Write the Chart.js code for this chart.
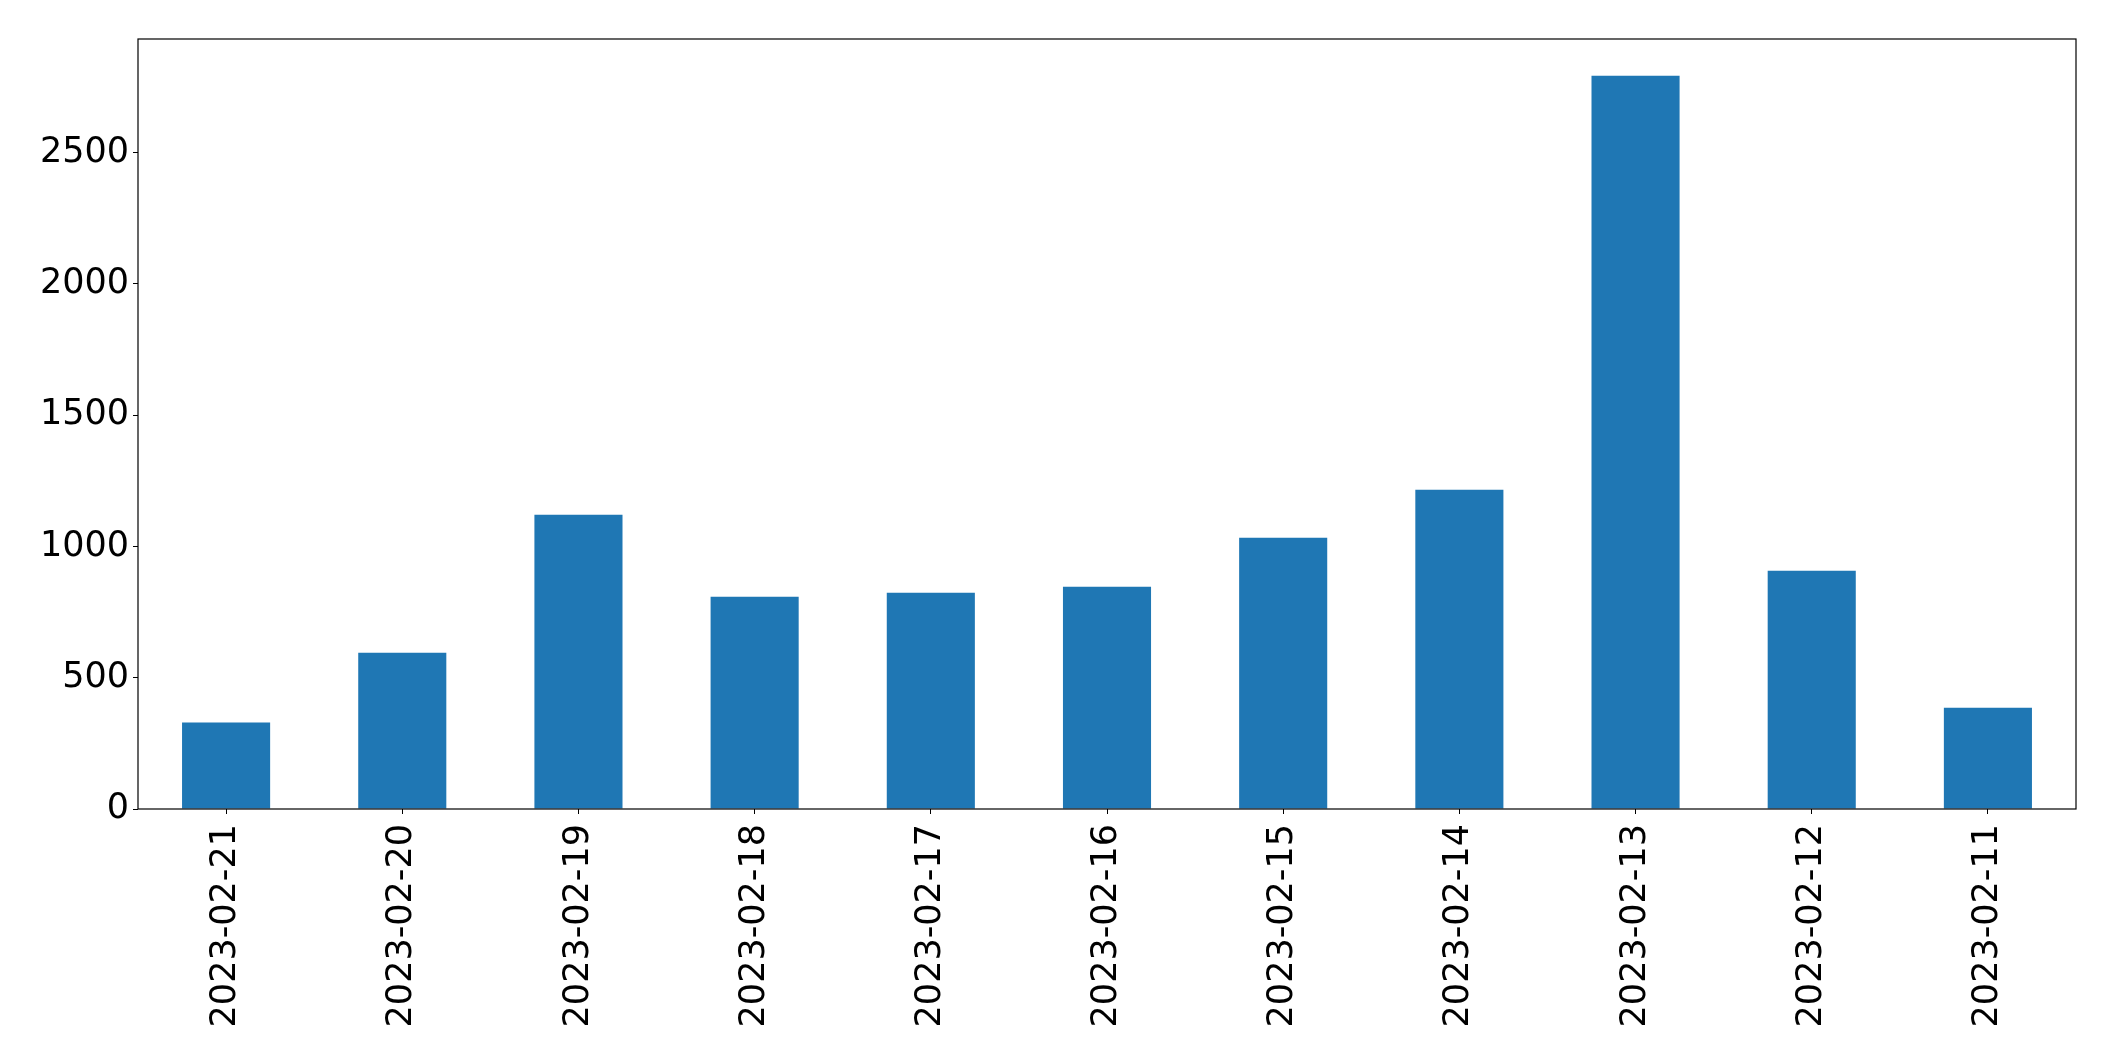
<!DOCTYPE html>
<html>
<head>
<meta charset="utf-8">
<script src="https://cdn.jsdelivr.net/npm/chart.js@4/dist/chart.umd.min.js"></script>
<style>
  html, body { margin: 0; padding: 0; background: #fff; }
  #wrap { width: 2115px; height: 1061px; }
</style>
</head>
<body>
<div id="wrap"><canvas id="barChart" width="2115" height="1061"></canvas></div>
<script>
const dates = ['2023-02-21', '2023-02-20', '2023-02-19', '2023-02-18', '2023-02-17', '2023-02-16',
               '2023-02-15', '2023-02-14', '2023-02-13', '2023-02-12', '2023-02-11'];
const counts = [329, 595, 1121, 808, 824, 846, 1033, 1216, 2793, 907, 386];
const yTicks = [0, 500, 1000, 1500, 2000, 2500];

// matplotlib-style box around the plot area
const frame = {
    id: 'frame',
    afterDraw(chart) {
        const a = chart.chartArea;
        const c = chart.ctx;
        c.save();
        c.strokeStyle = '#000';
        c.lineWidth = 1.2;
        c.strokeRect(a.left, a.top, a.right - a.left, a.bottom - a.top);
        c.restore();
    }
};

const ctx = document.getElementById('barChart').getContext('2d');
new Chart(ctx, {
    type: 'bar',
    data: {
        labels: dates,
        datasets: [{
            data: counts,
            backgroundColor: '#1f77b4',
            categoryPercentage: 1.0,
            barPercentage: 0.5
        }]
    },
    options: {
        responsive: false,
        animation: false,
        layout: { padding: { top: 39, right: 39, left: 0, bottom: 0 } },
        plugins: { legend: { display: false }, tooltip: { enabled: false } },
        scales: {
            x: {
                grid: { display: true, offset: false, drawOnChartArea: false, tickLength: 5, tickColor: '#000' },
                border: { display: false },
                ticks: {
                    color: '#000',
                    font: { family: 'DejaVu Sans', size: 35 },
                    minRotation: 90,
                    maxRotation: 90,
                    padding: 10
                },
                afterFit: s => { s.height = 1061 - 809; }
            },
            y: {
                min: 0,
                max: Math.max(...counts) * 1.05,
                grid: { display: true, drawOnChartArea: false, tickLength: 5, tickColor: '#000' },
                border: { display: false },
                ticks: {
                    color: '#000',
                    font: { family: 'DejaVu Sans', size: 35 },
                    padding: 4,
                    callback: v => String(v)
                },
                afterBuildTicks: s => { s.ticks = yTicks.map(v => ({ value: v })); },
                afterFit: s => { s.width = 138; }
            }
        }
    },
    plugins: [frame]
});
</script>
</body>
</html>
